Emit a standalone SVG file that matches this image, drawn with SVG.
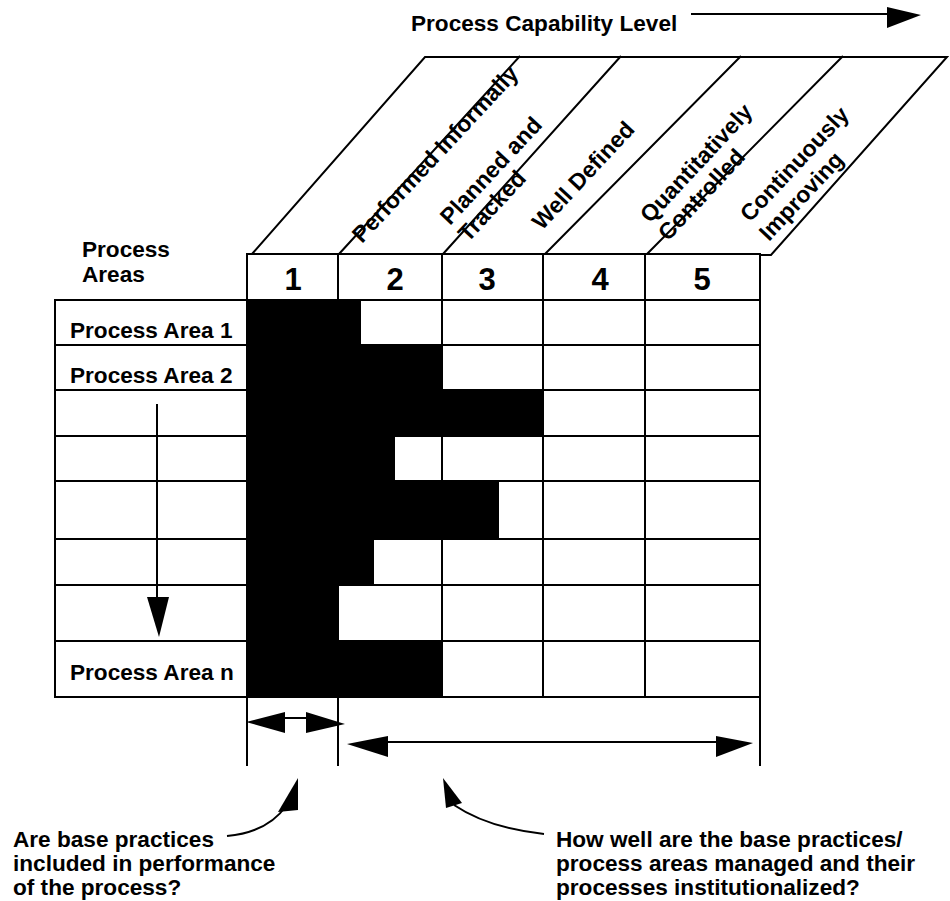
<svg xmlns="http://www.w3.org/2000/svg" width="950" height="901" viewBox="0 0 950 901">
<style>
.t{font-family:"Liberation Sans",Arial,Helvetica,sans-serif;font-weight:bold;font-size:22.6px;fill:#000}
.s{font-size:23px}
.d{font-size:31px;text-anchor:middle}
.ln{stroke:#000;stroke-width:2;fill:none}
.bk{fill:#000;stroke:none}
</style>
<rect width="950" height="901" fill="#fff"/>

<g id="title">
<text class="t" x="411" y="31">Process Capability Level</text>
<line class="ln" x1="691" y1="14" x2="889" y2="14"/>
<polygon class="bk" points="887,7 921,15 887,28"/>
</g>

<g id="level-banner">
<path class="ln" d="M252,254 L425,57 L947,57 L771,255 L760,255"/>
<path class="ln" d="M339,254 L520,56 M443,254 L621,56 M545,254 L741,56 M647,254 L843,56"/>
<g class="t s">
<text transform="translate(362,244) rotate(-47)">Performed Informally</text>
<text transform="translate(450,226) rotate(-47)">Planned and</text>
<text transform="translate(468,243) rotate(-47)">Tracked</text>
<text transform="translate(542,231) rotate(-47)">Well Defined</text>
<text transform="translate(650,224) rotate(-47)">Quantitatively</text>
<text transform="translate(668,242) rotate(-47)">Controlled</text>
<text transform="translate(750,223) rotate(-47)">Continuously</text>
<text transform="translate(769,242) rotate(-47)">Improving</text>
</g>
</g>

<g id="header">
<text class="t" x="82" y="257">Process</text>
<text class="t" x="82" y="282">Areas</text>
<rect class="ln" x="247" y="254" width="513" height="46"/>
<path class="ln" d="M338,254 V300 M442,254 V300 M543,254 V300 M645,254 V300"/>
<text class="t d" x="293" y="290">1</text>
<text class="t d" x="395" y="290">2</text>
<text class="t d" x="487" y="290">3</text>
<text class="t d" x="600" y="290">4</text>
<text class="t d" x="702" y="290">5</text>
</g>

<g id="grid">
<rect class="ln" x="55" y="300" width="705" height="397"/>
<path class="ln" d="M55,345 H760 M55,390 H760 M55,436 H760 M55,481 H760 M55,539 H760 M55,585 H760 M55,641 H760"/>
<path class="ln" d="M247,300 V697 M338,300 V697 M442,300 V697 M543,300 V697 M645,300 V697"/>
</g>

<g id="bars">
<rect class="bk" x="247" y="299" width="114" height="46"/>
<rect class="bk" x="247" y="344" width="195" height="46"/>
<rect class="bk" x="247" y="389" width="296" height="47"/>
<rect class="bk" x="247" y="435" width="148" height="47"/>
<rect class="bk" x="247" y="481" width="252" height="58"/>
<rect class="bk" x="247" y="538" width="127" height="47"/>
<rect class="bk" x="247" y="584" width="92" height="57"/>
<rect class="bk" x="247" y="640" width="195" height="58"/>
</g>

<g id="row-labels">
<text class="t" x="70" y="338">Process Area 1</text>
<text class="t" x="70" y="383">Process Area 2</text>
<text class="t" x="70" y="680">Process Area n</text>
</g>

<g id="connectors">
<line class="ln" x1="157" y1="404" x2="157" y2="600"/>
<polygon class="bk" points="147,597 169,597 159,637"/>

<path class="ln" d="M247,697 V766 M338,697 V766 M760,697 V766"/>
<line class="ln" x1="280" y1="718" x2="310" y2="718"/>
<polygon class="bk" points="246,722 285,712 285,733"/>
<polygon class="bk" points="306,712 345,724 306,733"/>

<line class="ln" x1="385" y1="742" x2="720" y2="742"/>
<polygon class="bk" points="347,744 388,736 388,757"/>
<polygon class="bk" points="753,743 716,736 716,757"/>

<path class="ln" d="M227,836 Q268,832 286,806"/>
<polygon class="bk" points="278,812 298,810 298,778"/>

<path class="ln" d="M544,834 Q488,828 454,805"/>
<polygon class="bk" points="443,778 446,808 462,803"/>
</g>

<g id="notes" class="t">
<text x="13" y="847">Are base practices</text>
<text x="13" y="871">included in performance</text>
<text x="13" y="895">of the process?</text>
<text x="556" y="847">How well are the base practices/</text>
<text x="556" y="871">process areas managed and their</text>
<text x="556" y="895">processes institutionalized?</text>
</g>
</svg>
